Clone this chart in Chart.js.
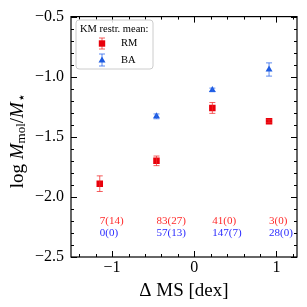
<!DOCTYPE html>
<html>
<head>
<meta charset="utf-8">
<script src="https://cdn.jsdelivr.net/npm/chart.js@4.4.0/dist/chart.umd.min.js"></script>
<style>
  html, body { margin: 0; padding: 0; background: #fff; }
  #wrap { width: 307px; height: 307px; }
</style>
</head>
<body>
<div id="wrap"><canvas id="chart"></canvas></div>
<script>
// Kaplan-Meier restricted means per Delta MS bin
const binCenters = [-1.15, -0.46, 0.22, 0.91];
const rmMean = [-1.89, -1.70, -1.26, -1.37];
const rmErr = [0.065, 0.04, 0.045, 0.012];
const baMean = [null, -1.33, -1.11, -0.94];
const baErr = [null, 0.02, 0.015, 0.055];
const rmCounts = ['7(14)', '83(27)', '41(0)', '3(0)'];
const baCounts = ['0(0)', '57(13)', '147(7)', '28(0)'];
const rmCountY = -2.2;
const baCountY = -2.3;

const xTicks = [-1, 0, 1];
const yTicks = [-2.5, -2.0, -1.5, -1.0, -0.5];
const xRange = [-1.5, 1.25];
const yRange = [-2.5, -0.5];

const RED = '#e8000b';
const RED_ERR = 'rgba(240, 40, 40, 0.75)';
const BLUE = '#1d5be0';
const BLUE_ERR = 'rgba(40, 100, 235, 0.75)';
const SERIF = '"Liberation Serif", "DejaVu Serif", serif';

function toPoints(xs, ys) {
    const pts = [];
    xs.forEach((x, i) => {
        if (ys[i] !== null) pts.push({ x: x, y: ys[i] });
    });
    return pts;
}

function fmt(v, digits) {
    const s = Math.abs(v).toFixed(digits);
    return v < 0 ? '\u2212' + s : s;
}

// error bars, inward ticks, full frame, count labels, legend, axis titles
const extras = {
    id: 'extras',
    afterDatasetsDraw(chart) {
        const c = chart.ctx;
        const xs = chart.scales.x;
        const ys = chart.scales.y;

        function errBar(x, y, e, color) {
            const px = xs.getPixelForValue(x);
            const top = ys.getPixelForValue(y + e);
            const bot = ys.getPixelForValue(y - e);
            c.save();
            c.strokeStyle = color;
            c.lineWidth = 1;
            c.beginPath();
            c.moveTo(px, top); c.lineTo(px, bot);
            c.moveTo(px - 3, top); c.lineTo(px + 3, top);
            c.moveTo(px - 3, bot); c.lineTo(px + 3, bot);
            c.stroke();
            c.restore();
        }
        binCenters.forEach((x, i) => {
            errBar(x, rmMean[i], rmErr[i], RED_ERR);
            if (baMean[i] !== null) errBar(x, baMean[i], baErr[i], BLUE_ERR);
        });
    },
    afterDraw(chart) {
        const c = chart.ctx;
        const a = chart.chartArea;
        const xs = chart.scales.x;
        const ys = chart.scales.y;

        c.save();
        c.strokeStyle = '#000';
        c.lineWidth = 1;
        c.beginPath();
        // x ticks (bottom and top)
        for (let v = -1.4; v <= 1.25 + 1e-9; v += 0.2) {
            const major = Math.abs(v - Math.round(v)) < 1e-6;
            const len = major ? 6 : 3;
            const px = Math.round(xs.getPixelForValue(v)) + 0.5;
            c.moveTo(px, a.bottom); c.lineTo(px, a.bottom - len);
            c.moveTo(px, a.top); c.lineTo(px, a.top + len);
        }
        // y ticks (left and right)
        for (let v = -2.5; v <= -0.5 + 1e-9; v += 0.1) {
            const major = Math.abs(v * 2 - Math.round(v * 2)) < 1e-6;
            const len = major ? 6 : 3;
            const py = Math.round(ys.getPixelForValue(v)) + 0.5;
            c.moveTo(a.left, py); c.lineTo(a.left + len, py);
            c.moveTo(a.right, py); c.lineTo(a.right - len, py);
        }
        c.stroke();
        c.lineWidth = 1.2;
        c.strokeRect(a.left, a.top, a.right - a.left, a.bottom - a.top);
        c.restore();

        // count labels
        c.save();
        c.font = '11px ' + SERIF;
        c.textAlign = 'left';
        c.textBaseline = 'middle';
        binCenters.forEach((x, i) => {
            const px = xs.getPixelForValue(x);
            c.fillStyle = '#ff2a2a';
            c.fillText(rmCounts[i], px, ys.getPixelForValue(rmCountY));
            c.fillStyle = '#2a2aff';
            c.fillText(baCounts[i], px, ys.getPixelForValue(baCountY));
        });
        c.restore();

        // legend
        c.save();
        const lx = 76, ly = 20, lw = 77, lh = 49, r = 3;
        c.beginPath();
        c.moveTo(lx + r, ly);
        c.arcTo(lx + lw, ly, lx + lw, ly + lh, r);
        c.arcTo(lx + lw, ly + lh, lx, ly + lh, r);
        c.arcTo(lx, ly + lh, lx, ly, r);
        c.arcTo(lx, ly, lx + lw, ly, r);
        c.closePath();
        c.fillStyle = 'rgba(255,255,255,0.85)';
        c.fill();
        c.strokeStyle = '#cccccc';
        c.lineWidth = 1;
        c.stroke();
        c.fillStyle = '#000';
        c.font = '10.5px ' + SERIF;
        c.textBaseline = 'middle';
        c.fillText('KM restr. mean:', 80, 29);
        c.fillText('RM', 121, 43.5);
        c.fillText('BA', 121, 60);
        // RM marker
        c.strokeStyle = RED_ERR;
        c.beginPath();
        c.moveTo(102, 38); c.lineTo(102, 49);
        c.moveTo(99, 38); c.lineTo(105, 38);
        c.moveTo(99, 49); c.lineTo(105, 49);
        c.stroke();
        c.fillStyle = RED;
        c.fillRect(98.8, 40.3, 6.4, 6.4);
        // BA marker
        c.strokeStyle = BLUE_ERR;
        c.beginPath();
        c.moveTo(102, 54); c.lineTo(102, 66);
        c.moveTo(99, 54); c.lineTo(105, 54);
        c.moveTo(99, 66); c.lineTo(105, 66);
        c.stroke();
        c.fillStyle = BLUE;
        c.beginPath();
        c.moveTo(102, 56.5); c.lineTo(105.5, 62.5); c.lineTo(98.5, 62.5);
        c.closePath();
        c.fill();
        c.restore();

        // x axis title
        c.save();
        c.fillStyle = '#000';
        c.font = '19px ' + SERIF;
        c.textAlign = 'center';
        c.textBaseline = 'middle';
        c.fillText('\u0394 MS [dex]', (a.left + a.right) / 2, 291);
        c.restore();

        // y axis title with italics and subscripts
        c.save();
        c.translate(18, (a.top + a.bottom) / 2 + 4);
        c.rotate(-Math.PI / 2);
        c.fillStyle = '#000';
        c.textBaseline = 'middle';
        const parts = [
            { t: 'log ', f: '19px ' + SERIF, dy: 0 },
            { t: 'M', f: 'italic 19px ' + SERIF, dy: 0 },
            { t: 'mol', f: '13px ' + SERIF, dy: 4 },
            { t: '/', f: '19px ' + SERIF, dy: 0 },
            { t: 'M', f: 'italic 19px ' + SERIF, dy: 0 },
            { t: '\u22c6', f: '14px "DejaVu Sans", sans-serif', dy: 4 }
        ];
        let total = 0;
        parts.forEach(p => { c.font = p.f; total += c.measureText(p.t).width; });
        let cx = -total / 2;
        parts.forEach(p => {
            c.font = p.f;
            c.fillText(p.t, cx, p.dy);
            cx += c.measureText(p.t).width;
        });
        c.restore();
    }
};

new Chart(document.getElementById('chart'), {
    type: 'scatter',
    data: {
        datasets: [{
            label: 'RM',
            data: toPoints(binCenters, rmMean),
            pointStyle: 'rect',
            pointRadius: 4.6,
            backgroundColor: RED,
            borderWidth: 0
        }, {
            label: 'BA',
            data: toPoints(binCenters, baMean),
            pointStyle: 'triangle',
            pointRadius: 4,
            backgroundColor: BLUE,
            borderWidth: 0
        }]
    },
    options: {
        responsive: true,
        maintainAspectRatio: false,
        animation: false,
        layout: { padding: { top: 16, right: 10, left: 0, bottom: 0 } },
        plugins: {
            legend: { display: false },
            tooltip: { enabled: false }
        },
        scales: {
            x: {
                type: 'linear',
                min: xRange[0],
                max: xRange[1],
                afterBuildTicks: s => { s.ticks = xTicks.map(v => ({ value: v })); },
                afterFit: s => { s.height = 50; },
                grid: { display: false, drawTicks: false },
                border: { display: false },
                ticks: {
                    padding: 1,
                    color: '#000',
                    font: { family: SERIF, size: 16 },
                    callback: v => fmt(v, 0)
                }
            },
            y: {
                type: 'linear',
                min: yRange[0],
                max: yRange[1],
                afterBuildTicks: s => { s.ticks = yTicks.map(v => ({ value: v })); },
                afterFit: s => { s.width = 71; },
                grid: { display: false, drawTicks: false },
                border: { display: false },
                ticks: {
                    padding: 7,
                    color: '#000',
                    font: { family: SERIF, size: 16 },
                    callback: v => fmt(v, 1)
                }
            }
        }
    },
    plugins: [extras]
});
</script>
</body>
</html>
